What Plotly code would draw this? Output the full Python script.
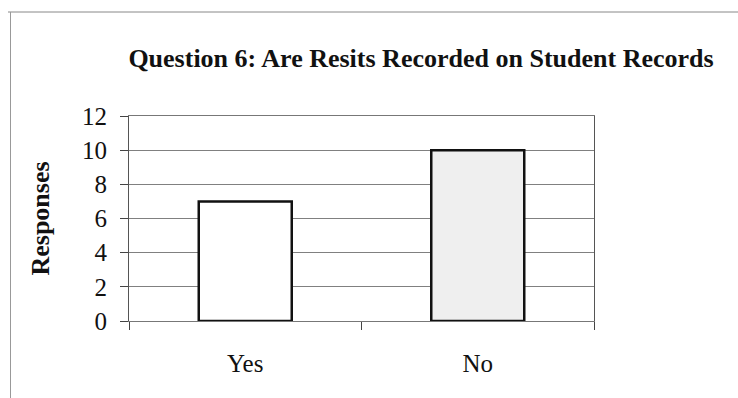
import plotly.graph_objects as go

# Survey responses for question 6
categories = ["Yes", "No"]
responses = [7, 10]
bar_fills = ["#ffffff", "#efefef"]
y_ticks = [0, 2, 4, 6, 8, 10, 12]

W, H = 738, 398
L, R, T, B = 129, 144, 116, 77

fig = go.Figure()
fig.add_trace(go.Bar(
    x=categories,
    y=responses,
    marker=dict(color=bar_fills, line=dict(color="#111111", width=2.5)),
    width=0.4,
    hoverinfo="x+y",
))

serif = "Liberation Serif, Times New Roman, serif"

fig.update_layout(
    width=W, height=H,
    margin=dict(l=L, r=R, t=T, b=B),
    paper_bgcolor="white",
    plot_bgcolor="white",
    showlegend=False,
    font=dict(family=serif, color="#111111", size=25),
    title=dict(
        text="<b>Question 6: Are Resits Recorded on Student Records</b>",
        x=421 / W, xanchor="center", xref="container",
        y=1 - 58 / H, yanchor="middle", yref="container",
        font=dict(family=serif, size=26, color="#111111"),
    ),
    xaxis=dict(
        type="category",
        tickson="boundaries",
        ticks="outside", ticklen=8, tickcolor="#444444", tickwidth=1,
        showline=True, linecolor="#777777", linewidth=1, mirror=True,
        showgrid=False,
        ticklabelstandoff=20,
        tickfont=dict(family=serif, size=25, color="#111111"),
    ),
    yaxis=dict(
        range=[0, 12],
        tickvals=y_ticks,
        ticks="outside", ticklen=8, tickcolor="#444444", tickwidth=1,
        showline=True, linecolor="#555555", linewidth=1, mirror=True,
        showgrid=True, gridcolor="#808080", gridwidth=1,
        zeroline=False,
        ticklabelstandoff=8,
        tickfont=dict(family=serif, size=25, color="#111111"),
        title=dict(text="<b>Responses</b>", standoff=24,
                   font=dict(family=serif, size=26, color="#111111")),
    ),
)

# Frame lines around the chart area (top and left edges of the outer box)
pw, ph = W - L - R, H - T - B
def px_x(v):
    return (v - L) / pw
def px_y(v):
    return (H - B - v) / ph

fig.add_shape(type="line", xref="paper", yref="paper",
              x0=px_x(8), x1=px_x(738), y0=px_y(12), y1=px_y(12),
              line=dict(color="#888888", width=1))
fig.add_shape(type="line", xref="paper", yref="paper",
              x0=px_x(10.5), x1=px_x(10.5), y0=px_y(12), y1=px_y(398),
              line=dict(color="#999999", width=1))

fig.write_html("out.html")
